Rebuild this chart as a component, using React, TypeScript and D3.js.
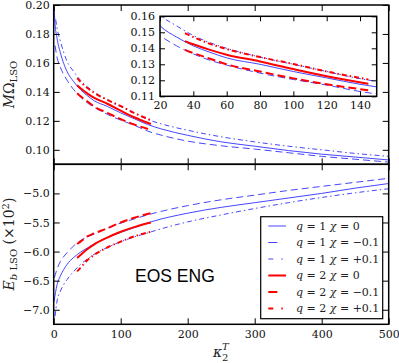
import React, { useEffect, useRef } from "react";
import * as d3 from "d3";

// kappa_2^T samples and values
const kappaB0 = [0.5, 2, 5, 10, 20, 30, 40, 50, 60, 80, 100, 120, 140, 160, 200, 250, 300, 350, 400, 450, 500];
const omegaB0 = [0.199, 0.187, 0.177, 0.167, 0.154, 0.147, 0.1415, 0.1375, 0.134, 0.130, 0.1255, 0.1215, 0.1175, 0.1145, 0.110, 0.1055, 0.1025, 0.0995, 0.097, 0.095, 0.093];
const kappaB1 = [2, 5, 10, 20, 30, 40, 50, 60, 80, 100, 120, 140, 160, 200, 250, 300, 350, 400, 450, 500];
const omegaB1 = [0.172, 0.164, 0.157, 0.148, 0.1415, 0.1365, 0.1325, 0.1295, 0.1245, 0.1205, 0.117, 0.113, 0.1102, 0.106, 0.1028, 0.1005, 0.098, 0.0955, 0.0935, 0.0915];
const kappaB2 = [3, 5, 10, 20, 30, 40, 50, 60, 80, 100, 120, 140, 160, 200, 250, 300, 350, 400, 450, 500];
const omegaB2 = [0.19, 0.184, 0.175, 0.161, 0.154, 0.148, 0.1435, 0.140, 0.1345, 0.130, 0.1255, 0.121, 0.118, 0.1135, 0.109, 0.1055, 0.1025, 0.100, 0.0975, 0.0955];

const kappaR = [35, 40, 50, 60, 80, 100, 120, 145];
const omegaR0 = [0.1445, 0.1425, 0.139, 0.136, 0.1318, 0.127, 0.1225, 0.1178];
const omegaR1 = [0.139, 0.137, 0.1335, 0.130, 0.1255, 0.1212, 0.1175, 0.1138];
const omegaR2 = [0.1495, 0.147, 0.1428, 0.1395, 0.1345, 0.1302, 0.1255, 0.1205];

// binding energy E_b (x10^2)
const kappaE0 = [0.5, 5, 10, 20, 30, 40, 50, 60, 80, 100, 120, 145, 200, 250, 300, 350, 400, 450, 500];
const ebB0 = [-6.86, -6.57, -6.42, -6.22, -6.1, -6.01, -5.94, -5.87, -5.76, -5.67, -5.59, -5.49, -5.34, -5.24, -5.16, -5.08, -5.0, -4.91, -4.83];
const kappaE1 = [1, 5, 10, 20, 30, 40, 50, 60, 80, 100, 120, 140, 160, 200, 250, 300, 350, 400, 450, 500];
const ebB1 = [-6.45, -6.3, -6.17, -6.02, -5.9, -5.81, -5.75, -5.7, -5.6, -5.51, -5.44, -5.37, -5.31, -5.21, -5.11, -5.03, -4.95, -4.88, -4.81, -4.74];
const kappaE2 = [2, 5, 10, 20, 30, 40, 50, 60, 80, 100, 120, 140, 160, 200, 250, 300, 350, 400, 450, 500];
const ebB2 = [-7.11, -6.85, -6.68, -6.48, -6.34, -6.22, -6.13, -6.05, -5.93, -5.83, -5.75, -5.68, -5.61, -5.49, -5.37, -5.26, -5.16, -5.07, -4.99, -4.92];
const ebR0 = [-6.11, -6.06, -5.96, -5.88, -5.76, -5.66, -5.58, -5.50];
const ebR1 = [-5.87, -5.83, -5.74, -5.69, -5.6, -5.5, -5.42, -5.34];
const ebR2 = [-6.34, -6.28, -6.15, -6.06, -5.93, -5.83, -5.74, -5.66];

const xTicks = [0, 100, 200, 300, 400, 500];
const omegaTicks = [0.10, 0.12, 0.14, 0.16, 0.18, 0.20];
const ebTicks = [-7.0, -6.5, -6.0, -5.5, -5.0];
const insetXTicks = [20, 40, 60, 80, 100, 120, 140];
const insetYTicks = [0.11, 0.12, 0.13, 0.14, 0.15, 0.16];

const legendQ = ["1", "1", "1", "2", "2", "2"];
const legendChi = ["0", "\u22120.1", "+0.1", "0", "\u22120.1", "+0.1"];

const BLUE = "#4646ff";
const RED = "#ff0000";
const styles = [
  { color: BLUE, width: 1, dash: null },
  { color: BLUE, width: 1, dash: "7,4" },
  { color: BLUE, width: 1, dash: "5,3,1.5,3" },
  { color: RED, width: 2, dash: null },
  { color: RED, width: 2, dash: "8,4" },
  { color: RED, width: 2, dash: "5,3,1.5,3" },
];
const legendDash = [null, "9,12", "5,8,1.5,10", null, "9,12", "5,8,1.5,10"];

const SERIF = "DejaVu Serif, serif";

export default function App() {
  const ref = useRef<SVGSVGElement>(null);

  useEffect(() => {
    const svg = d3.select(ref.current);
    svg.selectAll("*").remove();

    const L = 53.7, R = 388.7, T = 5, MID = 164.3, B = 324.3;
    const IL = 160, IR = 376.7, IT = 16.3, IB = 96.3;

    const x = d3.scaleLinear().domain([0, 500]).range([L, R]);
    const yTop = d3.scaleLinear().domain([0.09, 0.20]).range([MID, T]);
    const yBot = d3.scaleLinear().domain([-7.25, -4.5]).range([B, MID]);
    const xIn = d3.scaleLinear().domain([20, 150]).range([IL, IR]);
    const yIn = d3.scaleLinear().domain([0.11, 0.16]).range([IB, IT]);

    const defs = svg.append("defs");
    const clip = (id: string, x0: number, y0: number, x1: number, y1: number) =>
      defs.append("clipPath").attr("id", id).append("rect")
        .attr("x", x0).attr("y", y0).attr("width", x1 - x0).attr("height", y1 - y0);
    clip("cTop", L, T, R, MID);
    clip("cBot", L, MID, R, B);
    clip("cIn", IL, IT, IR, IB);

    const draw = (g: any, xs: any, ys: any, kx: number[], vy: number[], s: any) => {
      const pts: [number, number][] = kx.map((k, i) => [k, vy[i]]);
      const line = d3.line<[number, number]>()
        .x(d => xs(d[0])).y(d => ys(d[1])).curve(d3.curveMonotoneX);
      g.append("path").attr("d", line(pts)).attr("fill", "none")
        .attr("stroke", s.color).attr("stroke-width", s.width)
        .attr("stroke-dasharray", s.dash);
    };

    const topSets = [[kappaB0, omegaB0], [kappaB1, omegaB1], [kappaB2, omegaB2],
      [kappaR, omegaR0], [kappaR, omegaR1], [kappaR, omegaR2]];
    const botSets = [[kappaE0, ebB0], [kappaE1, ebB1], [kappaE2, ebB2],
      [kappaR, ebR0], [kappaR, ebR1], [kappaR, ebR2]];

    const gTop = svg.append("g").attr("clip-path", "url(#cTop)");
    topSets.forEach((d, i) => draw(gTop, x, yTop, d[0], d[1], styles[i]));
    const gBot = svg.append("g").attr("clip-path", "url(#cBot)");
    botSets.forEach((d, i) => draw(gBot, x, yBot, d[0], d[1], styles[i]));

    // axes: ticks inward, no domain path
    const addAxis = (gen: any, tx: number, ty: number) => {
      const g = svg.append("g").attr("transform", `translate(${tx},${ty})`).call(gen);
      g.select(".domain").remove();
      g.selectAll(".tick line").attr("stroke", "#000").attr("stroke-width", 1);
      g.selectAll(".tick text").attr("fill", "#111")
        .style("font-family", SERIF).style("font-size", "11px");
      return g;
    };
    const none = () => "";
    addAxis(d3.axisLeft(yTop).tickValues(omegaTicks).tickSize(-6).tickPadding(4).tickFormat(d3.format(".2f")), L, 0);
    addAxis(d3.axisRight(yTop).tickValues(omegaTicks).tickSize(-6).tickFormat(none), R, 0);
    addAxis(d3.axisTop(x).tickValues(xTicks).tickSize(-6).tickFormat(none), 0, T);
    addAxis(d3.axisBottom(x).tickValues(xTicks).tickSize(-6).tickFormat(none), 0, MID);
    addAxis(d3.axisLeft(yBot).tickValues(ebTicks).tickSize(-6).tickPadding(4).tickFormat(d3.format(".1f")), L, 0);
    addAxis(d3.axisRight(yBot).tickValues(ebTicks).tickSize(-6).tickFormat(none), R, 0);
    addAxis(d3.axisTop(x).tickValues(xTicks).tickSize(-6).tickFormat(none), 0, MID);
    addAxis(d3.axisBottom(x).tickValues(xTicks).tickSize(-6).tickPadding(6).tickFormat(d3.format("d")), 0, B);

    svg.append("rect").attr("x", L).attr("y", T).attr("width", R - L).attr("height", MID - T)
      .attr("fill", "none").attr("stroke", "#000").attr("stroke-width", 1.5);
    svg.append("rect").attr("x", L).attr("y", MID).attr("width", R - L).attr("height", B - MID)
      .attr("fill", "none").attr("stroke", "#000").attr("stroke-width", 1.5);

    // inset
    svg.append("rect").attr("x", IL).attr("y", IT).attr("width", IR - IL).attr("height", IB - IT)
      .attr("fill", "#fff");
    const gIn = svg.append("g").attr("clip-path", "url(#cIn)");
    topSets.forEach((d, i) => draw(gIn, xIn, yIn, d[0], d[1], styles[i]));
    addAxis(d3.axisLeft(yIn).tickValues(insetYTicks).tickSize(-5).tickPadding(5).tickFormat(d3.format(".2f")), IL, 0);
    addAxis(d3.axisRight(yIn).tickValues(insetYTicks).tickSize(-5).tickFormat(none), IR, 0);
    addAxis(d3.axisBottom(xIn).tickValues(insetXTicks).tickSize(-5).tickPadding(5).tickFormat(d3.format("d")), 0, IB);
    addAxis(d3.axisTop(xIn).tickValues(insetXTicks).tickSize(-5).tickFormat(none), 0, IT);
    svg.append("rect").attr("x", IL).attr("y", IT).attr("width", IR - IL).attr("height", IB - IT)
      .attr("fill", "none").attr("stroke", "#000").attr("stroke-width", 1.5);

    // axis labels
    const yl1 = svg.append("text").attr("transform", "translate(14,84.5) rotate(-90)")
      .attr("text-anchor", "middle").style("font-family", SERIF).style("font-size", "14px").attr("fill", "#222");
    yl1.append("tspan").style("font-style", "italic").text("M");
    yl1.append("tspan").text("\u03a9");
    yl1.append("tspan").attr("dy", 3).style("font-size", "10px").text("LSO");

    const yl2 = svg.append("text").attr("transform", "translate(14,244) rotate(-90)")
      .attr("text-anchor", "middle").style("font-family", SERIF).style("font-size", "14px").attr("fill", "#222");
    yl2.append("tspan").style("font-style", "italic").text("E");
    yl2.append("tspan").attr("dy", 3).style("font-size", "10px").style("font-style", "italic").text("b");
    yl2.append("tspan").style("font-size", "10px").text(" LSO");
    yl2.append("tspan").attr("dy", -3).text(" (\u00d710");
    yl2.append("tspan").attr("dy", -5).style("font-size", "10px").text("2");
    yl2.append("tspan").attr("dy", 5).text(")");

    svg.append("text").attr("x", 213).attr("y", 357).style("font-family", SERIF)
      .style("font-size", "14px").style("font-style", "italic").attr("fill", "#222").text("\u03ba");
    svg.append("text").attr("x", 222).attr("y", 350).style("font-family", SERIF)
      .style("font-size", "10px").style("font-style", "italic").attr("fill", "#222").text("T");
    svg.append("text").attr("x", 222).attr("y", 361).style("font-family", SERIF)
      .style("font-size", "10px").attr("fill", "#222").text("2");

    svg.append("text").attr("x", 135).attr("y", 281.7)
      .style("font-family", "Liberation Sans, Arial, sans-serif").style("font-size", "17.5px")
      .attr("fill", "#000").text("EOS ENG");

    // legend
    const lg = svg.append("g");
    lg.append("rect").attr("x", 260.7).attr("y", 216.7).attr("width", 122).attr("height", 102)
      .attr("fill", "#fff").attr("stroke", "#000").attr("stroke-width", 1.2);
    styles.forEach((s, i) => {
      const yy = 226 + i * 16.5;
      lg.append("line").attr("x1", 268.3).attr("x2", 286).attr("y1", yy).attr("y2", yy)
        .attr("stroke", s.color).attr("stroke-width", s.width).attr("stroke-dasharray", legendDash[i]);
      const t = lg.append("text").attr("x", 296).attr("y", yy).attr("dy", "0.35em")
        .style("font-family", SERIF).style("font-size", "11px").attr("fill", "#222");
      t.append("tspan").style("font-style", "italic").text("q");
      t.append("tspan").text(` = ${legendQ[i]} `);
      t.append("tspan").style("font-style", "italic").text("\u03c7");
      t.append("tspan").text(` = ${legendChi[i]}`);
    });
  }, []);

  return (
    <svg ref={ref} width={399} height={363}
      style={{ position: "absolute", left: 0, top: 0, background: "#fff" }} />
  );
}
